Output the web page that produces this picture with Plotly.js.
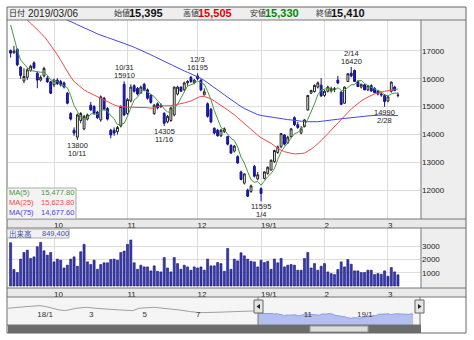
<!DOCTYPE html>
<html><head><meta charset="utf-8">
<script src="https://cdn.plot.ly/plotly-3.0.1.min.js"></script>
<style>html,body{margin:0;padding:0;background:#fff;}#chart{width:474px;height:340px;}</style>
</head><body><div id="chart"></div>
<script>
// ---------- data ----------
const dates = [
'2018-09-10','2018-09-11','2018-09-12','2018-09-13','2018-09-14','2018-09-18','2018-09-19','2018-09-20','2018-09-21','2018-09-25','2018-09-26','2018-09-27','2018-09-28',
'2018-10-01','2018-10-02','2018-10-03','2018-10-04','2018-10-05','2018-10-09','2018-10-10','2018-10-11','2018-10-12','2018-10-15','2018-10-16','2018-10-17','2018-10-18','2018-10-19','2018-10-22','2018-10-23','2018-10-24','2018-10-25','2018-10-26','2018-10-29','2018-10-30','2018-10-31',
'2018-11-01','2018-11-02','2018-11-05','2018-11-06','2018-11-07','2018-11-08','2018-11-09','2018-11-12','2018-11-13','2018-11-14','2018-11-15','2018-11-16','2018-11-19','2018-11-20','2018-11-21','2018-11-22','2018-11-26','2018-11-27','2018-11-28','2018-11-29','2018-11-30',
'2018-12-03','2018-12-04','2018-12-05','2018-12-06','2018-12-07','2018-12-10','2018-12-11','2018-12-12','2018-12-13','2018-12-14','2018-12-17','2018-12-18','2018-12-19','2018-12-20','2018-12-21','2018-12-25','2018-12-26','2018-12-27','2018-12-28',
'2019-01-04','2019-01-07','2019-01-08','2019-01-09','2019-01-10','2019-01-11','2019-01-15','2019-01-16','2019-01-17','2019-01-18','2019-01-21','2019-01-22','2019-01-23','2019-01-24','2019-01-25','2019-01-28','2019-01-29','2019-01-30','2019-01-31',
'2019-02-01','2019-02-04','2019-02-05','2019-02-06','2019-02-07','2019-02-08','2019-02-12','2019-02-13','2019-02-14','2019-02-15','2019-02-18','2019-02-19','2019-02-20','2019-02-21','2019-02-22','2019-02-25','2019-02-26','2019-02-27','2019-02-28',
'2019-03-01','2019-03-04','2019-03-05','2019-03-06'];

const open  = [17010,16930,17060,16420,15920,16050,16300,16570,16200,15950,16100,16020,15890,
15780,15950,15900,15850,15480,14750,14150,13900,14500,14200,14550,15050,15000,14800,14520,15300,14930,14150,14150,14100,14300,15800,
14750,15200,15750,15650,15500,15800,15600,15400,14750,15100,15050,14750,14450,14500,14700,15450,15700,15600,15850,16050,15850,
16100,15950,15420,15100,14900,14220,14150,13950,14100,13920,13600,13400,13200,12650,12250,12000,11950,12850,12400,
12050,12420,12600,12720,13020,13350,13560,13980,13700,13920,14600,14350,14050,14280,14880,15480,15540,15700,15770,
15400,15550,15560,15600,15950,15520,15120,15900,16200,16300,15900,15700,15780,15600,15750,15650,15560,15450,15400,
15200,15550,15700,15395];
const high  = [17050,17180,17090,16450,16380,16380,16500,16620,16250,16120,16430,16100,15910,
16000,16020,15960,15900,15520,14800,14250,14750,14800,14700,14750,15170,15050,14850,15400,15350,14980,14200,14250,14300,15050,15910,
15300,15800,15800,15700,15750,15850,15650,15450,15100,15150,15120,14800,14700,15000,15720,15750,15720,15900,15950,16100,15990,
16195,15980,15650,15150,14950,14250,14200,14200,14250,13950,13650,13620,13250,12700,12600,12050,12200,12900,12650,
12100,12680,12850,13100,13450,13600,14050,14000,13950,14220,14650,14450,14300,14550,15420,15600,15800,15900,16020,
15600,15750,15720,15700,16100,15550,15720,16200,16420,16330,15950,15820,15820,15780,15800,15700,15600,15500,15450,
15400,15900,15750,15505];
const low   = [16760,16900,16450,16000,15840,15950,16250,16350,15660,15900,16050,15850,15450,
15700,15780,15720,15650,15080,14500,13950,13800,14400,14150,14500,14850,14700,14550,14450,14850,14500,13860,13950,14000,14250,14650,
14700,15150,15500,15400,15450,15550,15250,15100,14700,14900,14950,14305,14400,14450,14650,15400,15530,15550,15750,15850,15800,
15950,15550,15400,14600,14400,14000,13920,13900,14050,13600,13300,13350,12950,12350,12200,11750,11900,12450,12350,
11595,12380,12550,12700,12980,13300,13500,13600,13650,13880,14300,14200,14000,14250,14850,15450,15500,15650,15350,
15350,15500,15500,15520,15800,15050,15100,15880,16050,15880,15700,15650,15590,15550,15530,15480,15400,15350,14990,
15150,15500,15550,15330];
const close = [16920,16990,16500,16120,16080,16320,16450,16390,15950,16050,16370,15890,15480,
15950,15820,15780,15700,15120,14550,14050,14700,14750,14650,14700,14880,14750,14600,15350,14900,14550,13980,14050,14250,15000,14700,
15250,15700,15550,15450,15700,15600,15300,15150,15050,14950,15000,14400,14650,14950,15700,15700,15550,15850,15900,15900,15950,
16000,15600,15530,14650,14450,14050,13950,14150,14200,13650,13330,13580,12970,12380,12580,11780,12150,12500,12550,
11880,12650,12820,13070,13420,13550,14030,13650,13900,14200,14350,14250,14200,14520,15400,15580,15760,15850,15380,
15550,15700,15650,15640,15850,15080,15700,16180,16100,15900,15720,15800,15600,15750,15560,15500,15450,15420,15180,
15350,15880,15580,15410];
// volume in thousand shares
const volume = [3280,1250,1020,2040,2540,2720,2090,2210,2980,3310,2670,2340,2540,
1830,2040,1960,1370,1580,2040,2210,1500,2600,3160,1830,1630,1960,1270,1630,1760,1760,2010,2040,1960,2540,2650,
3160,3490,1760,1270,1580,1450,1450,1150,1530,1120,1070,2160,1370,1070,2160,1700,1270,1580,1450,1200,1450,
1370,1450,1200,2040,1530,1530,1780,1700,1120,2850,1270,2040,1910,2520,2290,2040,1880,1830,1450,
1960,1780,1880,1270,2040,1760,2090,1450,1580,1630,1580,1200,1200,2090,2540,1370,1700,1200,1500,
1700,1070,940,870,1250,1830,1450,2010,1650,1150,1150,1020,1020,1200,1200,870,940,890,1150,
740,1400,1070,849.4];
const ma5 = [17935,17455,17035,16675,16522,16402,16294,16272,16238,16232,16242,16130,15948,
15948,15902,15784,15746,15674,15394,15040,14824,14634,14540,14570,14736,14746,14716,14856,14896,14830,14676,14566,14346,14366,14396,
14650,14980,15240,15330,15530,15600,15520,15440,15360,15210,15090,14910,14810,14790,14940,15080,15310,15550,15740,15780,15830,
15920,15870,15796,15546,15246,14856,14526,14250,14160,14000,13856,13782,13546,13182,12968,12658,12372,12278,12312,
12172,12346,12480,12594,12768,13102,13378,13544,13710,13866,14026,14070,14180,14304,14544,14790,15092,15422,15594,
15624,15648,15626,15584,15678,15584,15584,15690,15782,15792,15920,15940,15824,15754,15686,15642,15572,15536,15422,
15380,15456,15482,15477.8];
const ma25 = [18720,18610,18490,18360,18230,18100,17990,17880,17770,17660,17520,17370,17210,
17050,16860,16660,16450,16260,16060,15900,15790,15690,15600,15530,15470,15410,15360,15310,15250,15180,15110,15060,15020,15000,14985,
14975,14975,14970,14970,14975,14980,14960,14940,14950,14990,15030,15030,15020,15030,15060,15080,15100,15130,15170,15200,15260,
15320,15370,15360,15330,15280,15200,15130,15050,14960,14880,14800,14700,14600,14490,14380,14270,14160,14060,13970,
13880,13820,13760,13680,13590,13500,13430,13380,13340,13320,13300,13300,13310,13330,13390,13470,13560,13660,13780,
13900,14030,14160,14290,14420,14550,14680,14800,14910,15010,15120,15200,15280,15350,15400,15450,15490,15520,15550,
15570,15600,15615,15623.8];
const ma75 = [18900,18860,18820,18780,18740,18700,18660,18620,18570,18520,18470,18420,18360,
18300,18250,18200,18150,18100,18060,18000,17940,17890,17830,17780,17720,17670,17610,17560,17520,17480,17440,17400,17360,17320,17280,
17230,17180,17130,17080,17030,16980,16920,16860,16800,16740,16680,16620,16560,16500,16440,16380,16330,16280,16230,16180,16130,
16080,16010,15940,15860,15780,15690,15600,15510,15420,15330,15240,15160,15080,15000,14930,14870,14810,14760,14710,
14680,14660,14630,14610,14590,14570,14560,14540,14530,14520,14500,14490,14470,14460,14455,14450,14450,14455,14470,
14490,14510,14520,14530,14545,14560,14570,14585,14600,14610,14625,14640,14650,14665,14675,14690,14695,14695,14690,
14685,14680,14678,14677.6];

const monthTicks  = ['2018-10-01','2018-11-01','2018-12-03','2019-01-04','2019-02-01','2019-03-01'];
const monthLabels = ['10','11','12','19/1','2','3'];
const priceTicks  = [12000,13000,14000,15000,16000,17000];
const volTicks    = [1000,2000,3000];

const highMarks = ['2018-10-31','2018-12-03','2019-02-14'];
const lowMarks  = ['2018-10-11','2018-11-16','2019-01-04','2019-02-28'];

// navigator (longer history, weekly readings)
const navDates = ['2017-11-28','2017-12-08','2017-12-19','2018-01-04','2018-01-11','2018-01-26','2018-02-02','2018-02-14','2018-02-26','2018-03-09','2018-03-21','2018-04-05','2018-04-20','2018-04-27','2018-05-14','2018-05-28','2018-06-12','2018-06-25','2018-07-05','2018-07-24','2018-08-13','2018-08-31','2018-09-07'];
const navClose = [20675,21550,22140,23020,22140,19210,18620,20675,21550,20675,19800,19210,18620,20675,21550,20675,19210,17745,16870,17160,17745,18330,18400];
const navTicks  = ['2018-01-01','2018-03-01','2018-05-01','2018-07-01','2018-11-01','2019-01-01'];
const navLabels = ['18/1','3','5','7','11','19/1'];

const maNames  = ['MA(5)','MA(25)','MA(75)'];
const maColors = ['#449a3c','#f04848','#4646e6'];

// ---------- layout helpers ----------
const W=474,H=340;
const X=p=>p/W, Y=p=>1-p/H;
const FONT='Liberation Sans, Noto Sans CJK JP, sans-serif';
const xr=[-0.78,122.9];

const traces = [
 {type:'candlestick', x:dates, open:open, high:high, low:low, close:close, xaxis:'x', yaxis:'y',
  increasing:{line:{color:'#202020',width:1}, fillcolor:'#ffffff'},
  decreasing:{line:{color:'#10108c',width:1}, fillcolor:'#2020cc'},
  whiskerwidth:0, hoverinfo:'skip'},
 {type:'scatter', mode:'lines', x:dates, y:ma5, xaxis:'x', yaxis:'y', line:{color:maColors[0],width:1}, hoverinfo:'skip'},
 {type:'scatter', mode:'lines', x:dates, y:ma25, xaxis:'x', yaxis:'y', line:{color:maColors[1],width:1}, hoverinfo:'skip'},
 {type:'scatter', mode:'lines', x:dates, y:ma75, xaxis:'x', yaxis:'y', line:{color:maColors[2],width:1}, hoverinfo:'skip'},
 {type:'bar', x:dates, y:volume, xaxis:'x2', yaxis:'y2', width:0.62,
  marker:{color:'#3a3ab8', line:{color:'#14146a', width:0.6}}, hoverinfo:'skip'},
 {type:'scatter', mode:'lines', x:navDates, y:navClose, xaxis:'x3', yaxis:'y3', line:{color:'#a0a0a0',width:1}, hoverinfo:'skip'},
 {type:'scatter', mode:'lines', x:dates, y:close, xaxis:'x3', yaxis:'y3', fill:'tozeroy', fillcolor:'#b2c0f0', line:{color:'#8c9ae0',width:1}, hoverinfo:'skip'}
];

const shapes = [];
const rect=(x0,y0,x1,y1,fill,line,layer)=>shapes.push({type:'rect',xref:'paper',yref:'paper',x0:X(x0),x1:X(x1),y0:Y(y1),y1:Y(y0),fillcolor:fill||'rgba(0,0,0,0)',line:{color:line||'rgba(0,0,0,0)',width:line?1:0},layer:layer||'above'});
const hline=(x0,x1,y,c)=>shapes.push({type:'line',xref:'paper',yref:'paper',x0:X(x0),x1:X(x1),y0:Y(y),y1:Y(y),line:{color:c,width:1},layer:'above'});
const vline=(x,y0,y1,c)=>shapes.push({type:'line',xref:'paper',yref:'paper',x0:X(x),x1:X(x),y0:Y(y0),y1:Y(y1),line:{color:c,width:1},layer:'above'});

rect(7,7,466,20,'#eeeeee',null,'below');
rect(421,20,466,219,'#eeeeee',null,'below');
rect(7,219,466,228,'#e9e9e9',null,'below');
rect(421,228,466,288,'#eeeeee',null,'below');
rect(7,288,466,297,'#e9e9e9',null,'below');
rect(8,297,421,325,'#f5f5f5',null,'below');
// separators
hline(7,466,20,'#777'); hline(7,466,219,'#777'); hline(7,466,228,'#777');
hline(7,466,288,'#777'); hline(7,466,297,'#777'); hline(7,421,325,'#777');
vline(421,20,219,'#777'); vline(421,228,288,'#777');
// scrollbar
rect(8,325,421,333,'#6c6c6c',null);
rect(310,326,368,332,'#dcdcdc','#999');
// handles
vline(258,297,325,'#777'); vline(420,297,325,'#777');
rect(254,300,263,313,'#e4e4e4','#666'); rect(415,300,424,313,'#e4e4e4','#666');
shapes.push({type:'path',xref:'paper',yref:'paper',path:`M ${X(260)} ${Y(304)} L ${X(256.5)} ${Y(306.5)} L ${X(260)} ${Y(309)} Z`,fillcolor:'#222',line:{width:0}});
shapes.push({type:'path',xref:'paper',yref:'paper',path:`M ${X(418)} ${Y(304)} L ${X(421.5)} ${Y(306.5)} L ${X(418)} ${Y(309)} Z`,fillcolor:'#222',line:{width:0}});
// outer frame
rect(7,7,466,333,null,'#666');
// legend box & volume label box
rect(7,188,76,219,'rgba(242,242,242,0.92)','#aaa');
rect(7,229,69,238,'rgba(240,240,240,0.95)','#aaa');

const ann = [];
const txt=(x,y,t,opt)=>ann.push(Object.assign({xref:'paper',yref:'paper',x:X(x),y:Y(y),text:t,showarrow:false,xanchor:'left',yanchor:'middle',font:{family:FONT,size:10,color:'#222'}},opt||{}));
const fmt=(v,d)=>v.toLocaleString('en-US',{minimumFractionDigits:d,maximumFractionDigits:d});
const n=dates.length-1;
// header
txt(7,13.5,'日付',{font:{family:FONT,size:8,color:'#222'}});
txt(26,13.5,dates[n].replace(/-/g,'/'),{font:{family:FONT,size:10,color:'#222'}});
const head=[['始値',open[n],'#111',112],['高値',high[n],'#e00000',181],['安値',low[n],'#008a00',248],['終値',close[n],'#111',314]];
head.forEach(h=>{
  txt(h[3],13.5,h[0],{font:{family:FONT,size:8,color:'#333'}});
  txt(h[3]+15,13.5,'<b>'+fmt(h[1],0)+'</b>',{font:{family:FONT,size:11,color:h[2]}});
});
// MA legend
[ma5,ma25,ma75].forEach((a,i)=>{
  txt(7,192.5+i*10,maNames[i],{font:{family:FONT,size:7.5,color:maColors[i]}});
  txt(76,192.5+i*10,fmt(a[a.length-1],2),{xanchor:'right',font:{family:FONT,size:7.5,color:maColors[i]}});
});
// volume label
txt(7,233.5,'出来高',{font:{family:FONT,size:7.5,color:'#4050a8'}});
txt(40,233.5,fmt(volume[n]*1000,0),{font:{family:FONT,size:7.5,color:'#4050a8'}});
// high / low marks
const md=d=>{const p=d.split('-');return (+p[1])+'/'+(+p[2]);};
const mk=(d,v,up)=>{
  const base={xref:'x',yref:'y',x:d,y:v,showarrow:false,xanchor:'center',font:{family:FONT,size:7.5,color:'#222'}};
  ann.push(Object.assign({},base,{text:String(v),yanchor:up?'bottom':'top',yshift:up?-1:1}));
  ann.push(Object.assign({},base,{text:md(d),yanchor:up?'bottom':'top',yshift:up?7:-7}));
};
highMarks.forEach(d=>mk(d,high[dates.indexOf(d)],true));
lowMarks.forEach(d=>mk(d,low[dates.indexOf(d)],false));

const xcat={type:'category',range:xr,tickmode:'array',tickvals:monthTicks,ticktext:monthLabels,showgrid:true,gridcolor:'#dddddd',gridwidth:1,ticks:'',showline:false,zeroline:false,ticklabelposition:'outside right',tickfont:{family:FONT,size:8,color:'#222'},fixedrange:true};
const layout={
 width:W,height:H,margin:{l:0,r:0,t:0,b:0},paper_bgcolor:'#ffffff',plot_bgcolor:'rgba(0,0,0,0)',showlegend:false,
 font:{family:FONT,size:8,color:'#222'}, boxgap:0.2,
 xaxis:Object.assign({},xcat,{domain:[X(8),X(421)],anchor:'y',rangeslider:{visible:false}}),
 yaxis:{domain:[Y(219),Y(20)],anchor:'x',side:'right',range:[10960,18110],tickmode:'array',tickvals:priceTicks,tickformat:'d',showgrid:true,gridcolor:'#dddddd',ticks:'',zeroline:false,showline:false,tickfont:{family:FONT,size:8,color:'#222'}},
 xaxis2:Object.assign({},xcat,{domain:[X(8),X(421)],anchor:'y2'}),
 yaxis2:{domain:[Y(288),Y(228)],anchor:'x2',side:'right',range:[-150,4400],tickmode:'array',tickvals:volTicks,tickformat:'d',showgrid:true,gridcolor:'#dddddd',ticks:'',zeroline:false,showline:false,tickfont:{family:FONT,size:8,color:'#222'}},
 xaxis3:{domain:[X(8),X(421)],anchor:'y3',type:'date',range:['2017-11-28 12:00','2019-03-15'],tickmode:'array',tickvals:navTicks,ticktext:navLabels,ticklabelposition:'inside right',showgrid:false,ticks:'',showline:false,zeroline:false,tickfont:{family:FONT,size:8,color:'#333'}},
 yaxis3:{domain:[Y(325),Y(297)],anchor:'x3',range:[6000,30600],visible:false},
 shapes:shapes, annotations:ann
};
Plotly.newPlot('chart',traces,layout,{staticPlot:true,displayModeBar:false});
</script></body></html>
